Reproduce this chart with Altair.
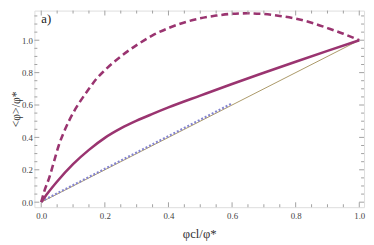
import altair as alt
import pandas as pd

# ---- data ----
x_solid = [0.0, 0.02, 0.05, 0.1, 0.15, 0.2, 0.25, 0.3, 0.35, 0.4, 0.5, 0.6, 0.7, 0.8, 0.9, 1.0]
y_solid = [0.0, 0.055, 0.128, 0.235, 0.323, 0.397, 0.455, 0.503, 0.545, 0.585, 0.658, 0.73, 0.799,
           0.867, 0.934, 1.0]

x_dash = [0.0, 0.01, 0.025, 0.04, 0.055, 0.075, 0.1, 0.125, 0.15, 0.175, 0.2, 0.25, 0.3,
          0.35, 0.4, 0.45, 0.5, 0.55, 0.6, 0.65, 0.7, 0.75, 0.8, 0.85, 0.9, 0.95, 1.0]
y_dash = [0.0, 0.07, 0.15, 0.25, 0.35, 0.45, 0.55, 0.63, 0.70, 0.765, 0.815, 0.90, 0.97,
          1.03, 1.075, 1.11, 1.135, 1.152, 1.163, 1.166, 1.162, 1.15, 1.133, 1.108, 1.075, 1.04, 1.0]

x_blue = [0.0, 0.1, 0.2, 0.3, 0.4, 0.5, 0.6]
y_blue = [0.004, 0.105, 0.206, 0.307, 0.408, 0.509, 0.61]

x_diag = [0.0, 1.0]
y_diag = [0.0, 1.0]

x_major = [0.0, 0.2, 0.4, 0.6, 0.8, 1.0]
x_minor = [0.05, 0.1, 0.15, 0.25, 0.3, 0.35, 0.45, 0.5, 0.55, 0.65, 0.7, 0.75, 0.85, 0.9, 0.95]
y_major = [0.0, 0.2, 0.4, 0.6, 0.8, 1.0]
y_minor = [0.05, 0.1, 0.15, 0.25, 0.3, 0.35, 0.45, 0.5, 0.55, 0.65, 0.7, 0.75, 0.85, 0.9,
           0.95, 1.05, 1.1, 1.15]

panel_label = ["a)"]
panel_x = [0.0]
panel_y = [1.13]

# ---- layout / style ----
W, H = 337, 201
FRAME = "#a0a0a0"
PURPLE = "#9a3470"
OLIVE = "#a08c55"
BLUE = "#8484d0"
FONT = "Liberation Serif, DejaVu Serif, serif"

xs = alt.Scale(domain=[-0.0215, 1.015], nice=False, zero=False)
ys = alt.Scale(domain=[-0.031, 1.183], nice=False, zero=False)

xaxis = alt.Axis(values=x_major, format=".1f", ticks=False, domain=False, grid=False,
                 labelFont=FONT, labelFontSize=9, labelColor="#444", labelPadding=5,
                 labelFlush=False, title="φcl/φ*", titleFont=FONT, titleFontSize=13,
                 titleFontWeight="normal", titleColor="#333", titleY=31,
                 titleBaseline="alphabetic")
yaxis = alt.Axis(values=y_major, format=".1f", ticks=False, domain=False, grid=False,
                 labelFont=FONT, labelFontSize=9, labelColor="#444", labelPadding=2,
                 labelFlush=False, title="<φ>/φ*", titleFont=FONT, titleFontSize=12,
                 titleFontWeight="normal", titleColor="#333", titleX=-15,
                 titleBaseline="alphabetic")

X = alt.X("x:Q", scale=xs, axis=xaxis)
Y = alt.Y("y:Q", scale=ys, axis=yaxis)

diag = alt.Chart(pd.DataFrame({"x": x_diag, "y": y_diag})).mark_line(
    color=OLIVE, strokeWidth=0.9).encode(x=X, y=Y)
blue = alt.Chart(pd.DataFrame({"x": x_blue, "y": y_blue})).mark_line(
    color=BLUE, strokeWidth=2.2, strokeDash=[2, 2]).encode(x=X, y=Y)
solid = alt.Chart(pd.DataFrame({"x": x_solid, "y": y_solid})).mark_line(
    color=PURPLE, strokeWidth=2.6, interpolate="monotone").encode(x=X, y=Y)
dash = alt.Chart(pd.DataFrame({"x": x_dash, "y": y_dash})).mark_line(
    color=PURPLE, strokeWidth=2.6, strokeDash=[7, 4], interpolate="monotone").encode(x=X, y=Y)

def xticks(vals, length):
    d = pd.DataFrame({"x": vals})
    bottom = alt.Chart(d).mark_rule(color=FRAME, strokeWidth=1).encode(
        x=X, y=alt.value(H), y2=alt.value(H - length))
    top = alt.Chart(d).mark_rule(color=FRAME, strokeWidth=1).encode(
        x=X, y=alt.value(0), y2=alt.value(length))
    return [bottom, top]

def yticks(vals, length):
    d = pd.DataFrame({"y": vals})
    left = alt.Chart(d).mark_rule(color=FRAME, strokeWidth=1).encode(
        y=Y, x=alt.value(0), x2=alt.value(length))
    right = alt.Chart(d).mark_rule(color=FRAME, strokeWidth=1).encode(
        y=Y, x=alt.value(W), x2=alt.value(W - length))
    return [left, right]

ticks = xticks(x_major, 5) + xticks(x_minor, 3) + yticks(y_major, 5) + yticks(y_minor, 3)

label = alt.Chart(pd.DataFrame({"x": panel_x, "y": panel_y, "t": panel_label})).mark_text(
    font=FONT, fontSize=13, color="#222", align="left", baseline="middle").encode(
    x=X, y=Y, text="t:N")

chart = alt.layer(diag, blue, solid, dash, *ticks, label).properties(
    width=W, height=H,
    padding={"left": 27, "top": 0, "right": 2, "bottom": 36},
    autosize=alt.AutoSizeParams(type="none"),
).configure_view(stroke=FRAME, strokeWidth=1).configure(background="white")

chart.save("out.html", embed_options={"renderer": "svg", "actions": False})
